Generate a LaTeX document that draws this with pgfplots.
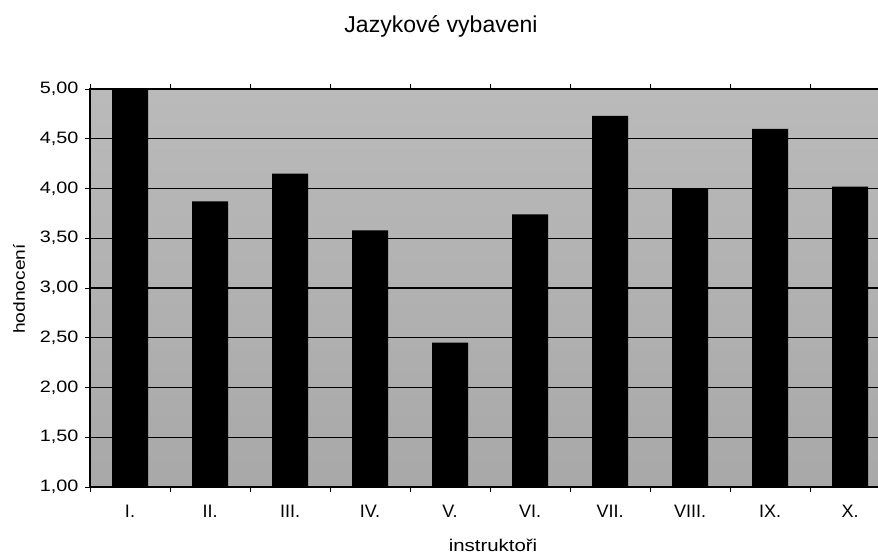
\documentclass[border=0pt]{standalone}
\usepackage{fontspec}
\setmainfont{Liberation Sans}
\newfontfamily\widefont[FakeStretch=1.2]{Liberation Sans}
\usepackage{pgfplots}
\pgfplotsset{compat=1.18}
\definecolor{bgtop}{gray}{0.73}
\definecolor{bgbottom}{gray}{0.66}

\begin{document}
\begin{tikzpicture}[x=1pt,y=1pt]
\begin{axis}[
  at={(90pt,69pt)}, anchor=south west,
  scale only axis, width=800pt, height=398pt,
  xmin=0.5, xmax=10.5, ymin=1, ymax=5,
  axis background/.style={top color=bgtop, bottom color=bgbottom},
  axis line style={black, line width=1.2pt},
  ybar, bar width=36pt,
  xtick={1,...,10},
  xticklabels={I.,II.,III.,IV.,V.,VI.,VII.,VIII.,IX.,X.},
  minor xtick={0.5,1.5,...,10.5},
  every major x tick/.append style={draw=none},
  ytick={1,1.5,...,5},
  tick align=outside,
  major tick length=5pt, minor tick length=5pt,
  tick style={black, line width=0.8pt},
  ymajorgrids,
  grid style={black, line width=1.4pt},
  /pgf/number format/.cd, fixed, fixed zerofill, precision=2, use comma,
    assume math mode=true,
  /pgfplots/.cd,
  yticklabel style={font=\fontsize{16.5}{19}\widefont, xshift=-3pt},
  xticklabel style={font=\fontsize{18}{20}\selectfont, yshift=-10pt},
]
\addplot[fill=black, draw=none] coordinates {
  (1,5.00) (2,3.87) (3,4.15) (4,3.58) (5,2.45)
  (6,3.74) (7,4.73) (8,4.00) (9,4.60) (10,4.02)
};
\end{axis}
\node[anchor=base, font=\fontsize{23}{26}\selectfont] at (441,523) {Jazykové vybaveni};
\node[rotate=90, font=\fontsize{16}{19}\widefont] at (19,267) {hodnocení};
\node[anchor=base, font=\fontsize{17}{20}\widefont] at (493,4) {instruktoři};
\pgfresetboundingbox
\useasboundingbox (0,0) rectangle (878,556);
\end{tikzpicture}
\end{document}
